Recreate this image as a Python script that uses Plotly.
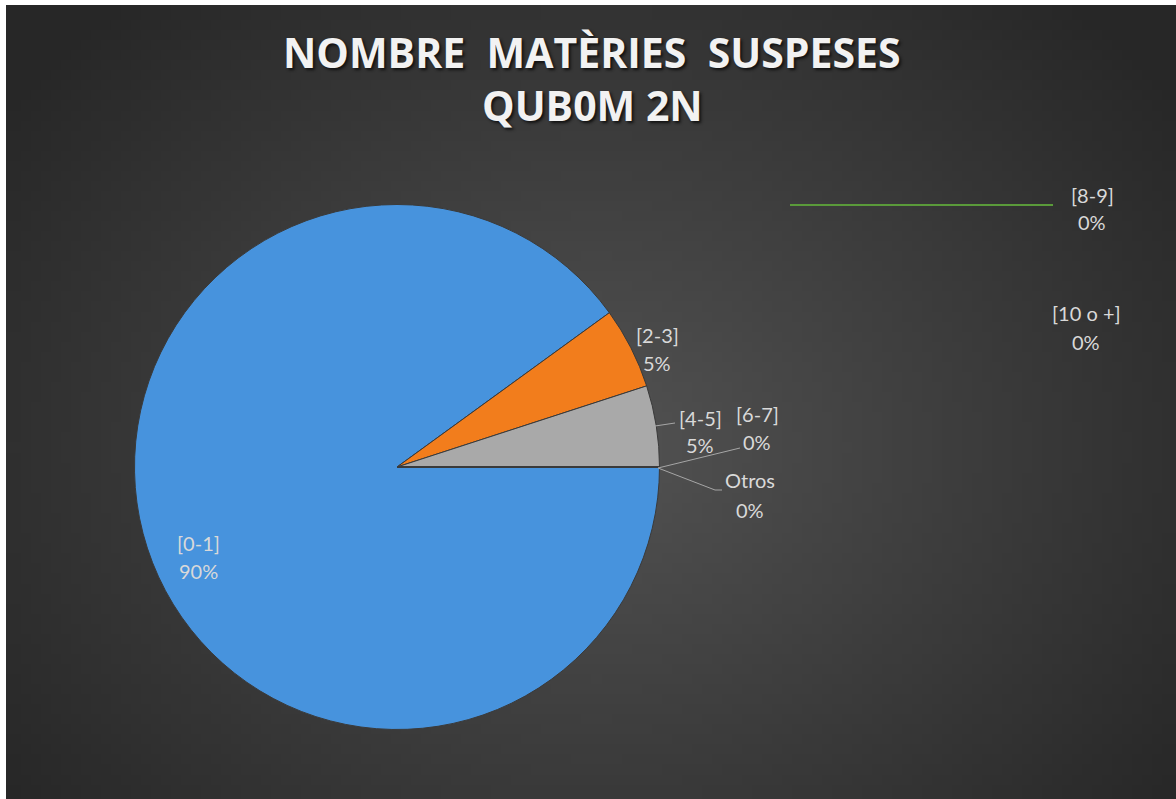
import base64, struct, zlib, math
import plotly.graph_objects as go

# ---- data ----
categories = ["[0-1]", "[2-3]", "[4-5]", "[6-7]", "[8-9]", "[10 o +]", "Otros"]
counts = [18, 1, 1, 0, 0, 0, 0]
slice_colors = ["#4793dd", "#f27d1c", "#a9a9a9", "#ffc000", "#4472c4", "#70ad47", "#255e91"]
title_lines = ["NOMBRE  MATÈRIES  SUSPESES", "QUB0M 2N"]

FW, FH = 1176, 799
total = sum(counts)

def px(x):
    return x / FW

def py(y):
    return 1 - y / FH

# ---- radial gradient background as PNG ----
def make_png(w, h, cx, cy, rx, ry, inner, outer):
    rows = []
    for j in range(h):
        row = bytearray([0])
        for i in range(w):
            d = math.sqrt(((i - cx) / rx) ** 2 + ((j - cy) / ry) ** 2)
            t = min(1.0, d)
            v = int(round(inner + (outer - inner) * t))
            row += bytes([v, v, v])
        rows.append(bytes(row))
    raw = b"".join(rows)
    def chunk(tag, data):
        c = struct.pack(">I", len(data)) + tag + data
        return c + struct.pack(">I", zlib.crc32(tag + data) & 0xFFFFFFFF)
    png = b"\x89PNG\r\n\x1a\n"
    png += chunk(b"IHDR", struct.pack(">IIBBBBB", w, h, 8, 2, 0, 0, 0))
    png += chunk(b"IDAT", zlib.compress(raw, 9))
    png += chunk(b"IEND", b"")
    return "data:image/png;base64," + base64.b64encode(png).decode()

gw, gh = 117, 79
bg_src = make_png(gw, gh, gw * 0.5, gh * 0.55, gw * 0.62, gh * 0.75, 0x53, 0x27)

# ---- pie ----
pie_cx, pie_cy, pie_r = 397, 467, 262.5
dom_x = [px(pie_cx - pie_r), px(pie_cx + pie_r)]
dom_y = [py(pie_cy + pie_r), py(pie_cy - pie_r)]

fig = go.Figure(go.Pie(
    labels=categories,
    values=counts,
    sort=False,
    direction="clockwise",
    rotation=90,
    marker=dict(colors=slice_colors, line=dict(color="#3a3a3a", width=1)),
    textinfo="none",
    domain=dict(x=dom_x, y=dom_y),
    showlegend=False,
    hoverinfo="label+percent",
))

# ---- data labels (category / percent), two lines each ----
label_pos = {
    "[0-1]": (198, 543, 571),
    "[2-3]": (657, 335, 363),
    "[4-5]": (700, 418, 445),
    "[6-7]": (757, 414, 442),
    "[8-9]": (1092, 195, 222),
    "[10 o +]": (1086, 313, 342),
    "Otros": (750, 480, 510),
}
lab_font = dict(family="Lato", size=20, color="#d9d9d9")
annotations = []
for lab, v in zip(categories, counts):
    x, y1, y2 = label_pos[lab]
    pct = f"{round(100 * v / total)}%"
    for txt, yy in ((lab, y1), (pct, y2)):
        annotations.append(dict(
            x=px(x), y=py(yy), xref="paper", yref="paper", text=txt, showarrow=False,
            font=lab_font, xanchor="center", yanchor="middle"))

# title
for line, yy in zip(title_lines, [52, 105]):
    annotations.append(dict(
        x=px(592), y=py(yy), xref="paper", yref="paper", text=f"<b>{line}</b>",
        showarrow=False, xanchor="center", yanchor="middle",
        font=dict(family="Open Sans", size=41, color="#f2f2f2", shadow="2px 2px 3px #111111")))

def seg(x0, y0, x1, y1, color="#a6a6a6", width=1):
    return dict(type="line", xref="paper", yref="paper",
                x0=px(x0), y0=py(y0), x1=px(x1), y1=py(y1),
                line=dict(color=color, width=width), layer="above")

shapes = [
    seg(655, 426, 675, 423),
    seg(658, 468, 740, 448),
    seg(658, 468, 715, 490), seg(715, 490, 722, 490),
    seg(790, 205, 1053, 205, color="#5a9a3a", width=2),
    # white frame strips at top and left
    dict(type="rect", xref="paper", yref="paper", x0=0, x1=1, y0=py(5), y1=1,
         fillcolor="#ffffff", line=dict(width=0), layer="above"),
    dict(type="rect", xref="paper", yref="paper", x0=0, x1=px(6), y0=0, y1=1,
         fillcolor="#ffffff", line=dict(width=0), layer="above"),
]

fig.update_layout(
    width=FW, height=FH,
    margin=dict(l=0, r=0, t=0, b=0),
    paper_bgcolor="#2a2a2a",
    plot_bgcolor="rgba(0,0,0,0)",
    images=[dict(source=bg_src, xref="paper", yref="paper", x=px(6), y=py(5),
                 sizex=1 - px(6), sizey=py(5), xanchor="left", yanchor="top",
                 sizing="stretch", layer="below")],
    annotations=annotations,
    shapes=shapes,
)

fig.write_html(
    "out.html",
    config={"displayModeBar": False},
    post_script=(
        "document.body.style.margin='0';"
        "document.body.style.overflow='hidden';"
        "document.body.style.background='#292929';"
        "document.documentElement.style.background='#292929';"
    ),
)
